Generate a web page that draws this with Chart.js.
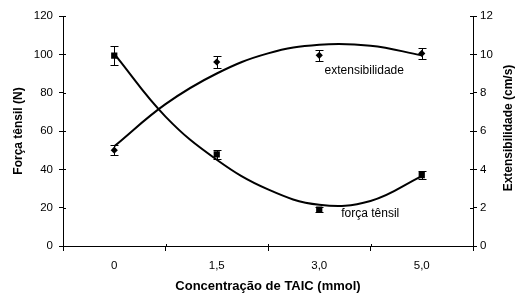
<!DOCTYPE html>
<html><head><meta charset="utf-8">
<script src="https://cdn.jsdelivr.net/npm/chart.js@4"></script>
<style>html,body{margin:0;padding:0;background:#fff}</style>
</head><body>
<canvas id="c" width="516" height="295"></canvas>
<script>
// ---- data ----
const categories = ['0', '1,5', '3,0', '5,0'];
const forcaTensil = [99.3, 47.8, 19.0, 37.0];        // N (left axis)
const forcaErro = [4.8, 2.2, 1.5, 2.0];
const extensibilidade = [5.0, 9.6, 9.95, 10.05];     // cm/s (right axis)
const extErro = [0.25, 0.3, 0.3, 0.3];
// fitted trend curves as they appear in the picture (category position 1..4)
const trendPos = [1, 1.5, 2, 2.5, 3, 3.5, 4];
const forcaTendencia = [100.2, 67.5, 45.0, 29.5, 21.5, 23.5, 36.5];
const extTendencia = [5.2, 7.4, 9.0, 10.05, 10.5, 10.45, 9.95];
const forcaTicks = [0, 20, 40, 60, 80, 100, 120];
const extTicks = [0, 2, 4, 6, 8, 10, 12];

const FONT = "'Liberation Sans', Arial, Helvetica, sans-serif";
Chart.defaults.font.family = FONT;
Chart.defaults.color = '#000';

const extras = {
  id: 'extras',
  afterDatasetsDraw(chart) {
    const {ctx, chartArea: a, scales} = chart;
    const x = scales.x, y = scales.y, y1 = scales.y1;
    ctx.save();
    ctx.strokeStyle = '#000';
    ctx.lineWidth = 1;
    const bars = (vals, errs, ys) => vals.forEach((v, i) => {
      const px = Math.round(x.getPixelForValue(i)) + 0.5;
      const t = Math.round(ys.getPixelForValue(v + errs[i])) + 0.5;
      const b = Math.round(ys.getPixelForValue(v - errs[i])) + 0.5;
      ctx.beginPath();
      ctx.moveTo(px, t); ctx.lineTo(px, b);
      ctx.moveTo(px - 4, t); ctx.lineTo(px + 4, t);
      ctx.moveTo(px - 4, b); ctx.lineTo(px + 4, b);
      ctx.stroke();
    });
    bars(forcaTensil, forcaErro, y);
    bars(extensibilidade, extErro, y1);
    // inner halves of the crossing tick marks
    ctx.beginPath();
    y.ticks.forEach(t => {
      const p = Math.round(y.getPixelForValue(t.value)) + 0.5;
      ctx.moveTo(a.left, p); ctx.lineTo(a.left + 3, p);
    });
    y1.ticks.forEach(t => {
      const p = Math.round(y1.getPixelForValue(t.value)) + 0.5;
      ctx.moveTo(a.right - 3, p); ctx.lineTo(a.right, p);
    });
    for (let i = 0; i <= categories.length; i++) {
      const p = Math.round(x.getPixelForValue(i - 0.5)) + 0.5;
      ctx.moveTo(p, a.bottom - 2); ctx.lineTo(p, a.bottom);
    }
    ctx.stroke();
    // series labels
    ctx.fillStyle = '#000';
    ctx.font = '12px ' + FONT;
    ctx.textBaseline = 'middle';
    ctx.textAlign = 'center';
    ctx.fillText('extensibilidade', x.getPixelForValue(2) + 45, y1.getPixelForValue(extensibilidade[2]) + 15.5);
    ctx.textAlign = 'left';
    ctx.fillText('força tênsil', x.getPixelForValue(2) + 22, y.getPixelForValue(forcaTensil[2]) + 4);
    // right axis title (reads bottom to top)
    ctx.font = 'bold 12px ' + FONT;
    ctx.translate(509, (a.top + a.bottom) / 2 - 3);
    ctx.rotate(-Math.PI / 2);
    ctx.textAlign = 'center';
    ctx.fillText('Extensibilidade (cm/s)', 0, 0);
    ctx.restore();
  }
};

const tickFont = {size: 11.5};
new Chart(document.getElementById('c'), {
  type: 'line',
  data: {
    labels: categories,
    datasets: [
      {label: 'força tênsil (tendência)', data: trendPos.map((p, i) => ({x: p, y: forcaTendencia[i]})),
       xAxisID: 'xt', yAxisID: 'y', borderColor: '#000', borderWidth: 2, pointRadius: 0, tension: 0.4, fill: false},
      {label: 'extensibilidade (tendência)', data: trendPos.map((p, i) => ({x: p, y: extTendencia[i]})),
       xAxisID: 'xt', yAxisID: 'y1', borderColor: '#000', borderWidth: 2, pointRadius: 0, tension: 0.4, fill: false},
      {label: 'força tênsil', data: forcaTensil, xAxisID: 'x', yAxisID: 'y', showLine: false,
       pointStyle: 'rect', pointRadius: 4.4, backgroundColor: '#000', borderColor: '#000', borderWidth: 0},
      {label: 'extensibilidade', data: extensibilidade, xAxisID: 'x', yAxisID: 'y1', showLine: false,
       pointStyle: 'rectRot', pointRadius: 3.6, backgroundColor: '#000', borderColor: '#000', borderWidth: 0}
    ]
  },
  options: {
    responsive: false, animation: false, devicePixelRatio: 1,
    layout: {padding: {top: 16, left: 0, right: 0, bottom: 0}},
    plugins: {legend: {display: false}, tooltip: {enabled: false}},
    scales: {
      x: {
        type: 'category', position: 'bottom', offset: true,
        grid: {offset: true, drawOnChartArea: false, drawTicks: true, tickLength: 5, color: '#000', lineWidth: 1},
        border: {display: true, color: '#000', width: 1},
        ticks: {font: tickFont, color: '#000', padding: 8, maxRotation: 0},
        title: {display: true, text: 'Concentração de TAIC (mmol)', color: '#000',
                font: {size: 13, weight: 'bold'}, padding: {top: 0, bottom: 1}},
        afterFit(s) { s.height = 49; }
      },
      xt: {type: 'linear', display: false, min: 0.5, max: 4.5},
      y: {
        position: 'left', min: 0, max: 120,
        afterBuildTicks(s) { s.ticks = forcaTicks.map(v => ({value: v})); },
        grid: {drawOnChartArea: false, drawTicks: true, tickLength: 4, color: '#000', lineWidth: 1},
        border: {display: true, color: '#000', width: 1},
        ticks: {font: tickFont, color: '#000', padding: 6},
        title: {display: true, text: 'Força tênsil (N)', color: '#000',
                font: {size: 12, weight: 'bold'}, padding: {top: 11, bottom: 0}},
        afterFit(s) { s.width = 63; }
      },
      y1: {
        position: 'right', min: 0, max: 12,
        afterBuildTicks(s) { s.ticks = extTicks.map(v => ({value: v})); },
        grid: {drawOnChartArea: false, drawTicks: true, tickLength: 4, color: '#000', lineWidth: 1},
        border: {display: true, color: '#000', width: 1},
        ticks: {font: tickFont, color: '#000', padding: 3},
        afterFit(s) { s.width = 43; }
      }
    }
  },
  plugins: [extras]
});
</script>
</body></html>
